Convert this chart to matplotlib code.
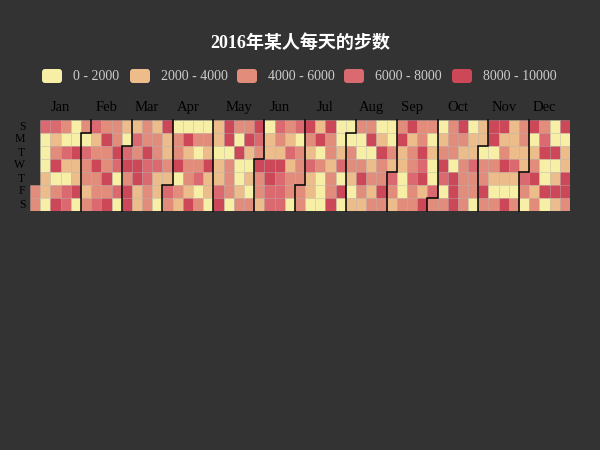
import datetime
import numpy as np
import matplotlib
matplotlib.use('Agg')
import matplotlib.pyplot as plt
from matplotlib.colors import ListedColormap, BoundaryNorm
from matplotlib.patches import FancyBboxPatch
from matplotlib.transforms import IdentityTransform

plt.rcParams['font.family'] = ['Liberation Serif', 'Noto Sans CJK SC']

# daily steps 2016 (one value per day)
jan = [5000, 5000, 7000, 1000, 1000, 1000, 3000, 3000, 1000, 7000, 3000, 5000, 9000, 1000, 5000, 9000,
       5000, 1000, 7000, 3000, 1000, 7000, 7000, 1000, 1000, 9000, 3000, 3000, 9000, 1000, 5000]
feb = [1000, 7000, 5000, 5000, 3000, 5000, 7000, 3000, 5000, 9000, 5000, 5000, 7000, 5000, 9000,
       5000, 5000, 9000, 5000, 9000, 5000, 5000, 9000, 7000, 1000, 7000, 1000, 3000, 1000]
mar = [7000, 9000, 5000, 9000, 9000, 3000, 7000, 5000, 9000, 9000, 3000, 3000, 5000, 5000, 9000, 7000,
       7000, 5000, 5000, 3000, 5000, 5000, 7000, 3000, 3000, 1000, 9000, 3000, 3000, 5000, 3000]
apr = [7000, 5000, 1000, 5000, 5000, 9000, 1000, 5000, 3000, 1000, 9000, 3000, 5000, 5000, 3000,
       9000, 1000, 5000, 1000, 5000, 7000, 1000, 5000, 1000, 5000, 3000, 9000, 3000, 3000, 1000]
may = [3000, 3000, 1000, 3000, 3000, 7000, 9000, 9000, 9000, 1000, 5000, 5000, 5000, 1000, 5000, 1000,
       9000, 1000, 1000, 3000, 5000, 5000, 9000, 3000, 1000, 3000, 1000, 5000, 9000, 7000, 5000]
jun = [9000, 5000, 5000, 3000, 1000, 3000, 3000, 9000, 9000, 7000, 7000, 7000, 5000, 3000, 9000,
       7000, 7000, 7000, 5000, 3000, 7000, 3000, 5000, 5000, 1000, 7000, 1000, 5000, 5000, 5000]
jul = [5000, 5000, 9000, 5000, 3000, 7000, 3000, 3000, 1000, 3000, 9000, 1000, 5000, 1000, 1000, 1000,
       9000, 5000, 5000, 3000, 5000, 5000, 9000, 1000, 1000, 3000, 7000, 1000, 9000, 1000, 1000]
aug = [1000, 5000, 5000, 3000, 1000, 3000, 5000, 1000, 1000, 5000, 9000, 5000, 3000, 5000, 9000, 1000,
       3000, 5000, 3000, 5000, 1000, 3000, 9000, 5000, 5000, 9000, 5000, 1000, 1000, 5000, 3000]
sep = [7000, 5000, 3000, 5000, 9000, 3000, 3000, 1000, 1000, 5000, 9000, 3000, 5000, 5000, 7000,
       5000, 5000, 5000, 5000, 9000, 7000, 9000, 3000, 9000, 5000, 1000, 3000, 1000, 1000, 7000]
oct_ = [5000, 1000, 3000, 5000, 9000, 7000, 1000, 5000, 5000, 5000, 5000, 1000, 9000, 9000, 9000, 9000,
        5000, 3000, 5000, 5000, 5000, 5000, 1000, 3000, 3000, 7000, 5000, 5000, 1000, 3000, 3000]
nov = [1000, 5000, 5000, 9000, 5000, 9000, 9000, 1000, 5000, 3000, 1000, 5000, 9000, 3000, 5000,
       9000, 3000, 1000, 9000, 3000, 3000, 3000, 7000, 3000, 1000, 5000, 5000, 5000, 3000, 3000]
dec = [7000, 5000, 1000, 9000, 1000, 3000, 5000, 9000, 3000, 5000, 5000, 7000, 9000, 1000, 1000, 9000,
       1000, 1000, 1000, 9000, 1000, 3000, 9000, 3000, 9000, 1000, 3000, 3000, 9000, 9000, 5000]

month_data = [jan, feb, mar, apr, may, jun, jul, aug, sep, oct_, nov, dec]
month_names = ['Jan', 'Feb', 'Mar', 'Apr', 'May', 'Jun', 'Jul', 'Aug', 'Sep', 'Oct', 'Nov', 'Dec']
day_names = ['S', 'M', 'T', 'W', 'T', 'F', 'S']
bins = [0, 2000, 4000, 6000, 8000, 10000]
piece_labels = ['0 - 2000', '2000 - 4000', '4000 - 6000', '6000 - 8000', '8000 - 10000']
colors = ['#f7efa5', '#ecbd8b', '#e28c7b', '#da6a6f', '#cc4757']
title = '2016年某人每天的步数'

bg = '#333333'

steps = [v for m in month_data for v in m]
start = datetime.date(2016, 1, 1)
offset = (start.weekday() + 1) % 7  # sunday first
cols = np.array([(i + offset) // 7 for i in range(len(steps))])
rows = np.array([(i + offset) % 7 for i in range(len(steps))])
ncol = cols.max() + 1

fig = plt.figure(figsize=(6, 4.5), dpi=100, facecolor=bg)
ax = fig.add_axes([30 / 600, 1 - 211 / 450, 540 / 600, 91 / 450])
ax.set_facecolor(bg)

cmap = ListedColormap(colors)
norm = BoundaryNorm(bins, cmap.N)
ax.bar(cols, np.ones(len(steps)), bottom=rows, width=1, align='edge',
       color=cmap(norm(np.array(steps))), edgecolor=(1, 1, 1, 0.28), linewidth=0.5)

# month separators + labels
d = 0
for mi, (name, m) in enumerate(zip(month_names, month_data)):
    k1, r1 = divmod(d + offset, 7)
    k2, r2 = divmod(d + len(m) - 1 + offset, 7)
    if mi > 0:
        if r1 == 0:
            xs, ys = [k1, k1], [7, 0]
        else:
            xs, ys = [k1, k1, k1 + 1, k1 + 1], [7, r1, r1, 0]
        ax.plot(xs, ys, color='black', lw=1.1, solid_joinstyle='miter', clip_on=False)
    ax.text((k1 + k2 + 1) / 2, -0.95, name, ha='center', va='center',
            fontsize=10.5, color='black', clip_on=False)
    d += len(m)

for r, nm in enumerate(day_names):
    ax.text(-0.45, r + 0.5, nm, ha='right', va='center', fontsize=8.5,
            color='black', clip_on=False)

ax.set_xlim(0, ncol)
ax.set_ylim(7, 0)
ax.axis('off')

# legend (pixel positions)
rect_x = [42, 130, 237, 344, 452]
for x0, c, lab in zip(rect_x, colors, piece_labels):
    p = FancyBboxPatch((x0, 450 - 83), 20, 14, boxstyle='round,pad=0,rounding_size=3',
                       transform=IdentityTransform(), facecolor=c, edgecolor='none')
    fig.add_artist(p)
    fig.text((x0 + 31) / 600, 1 - 76 / 450, lab, ha='left', va='center',
             fontsize=10, color='#cccccc')

fig.text(0.5, 1 - 43 / 450, title, ha='center', va='center', fontsize=13,
         fontweight='bold', color='white')

fig.savefig('out.png', dpi=100, facecolor=bg)
